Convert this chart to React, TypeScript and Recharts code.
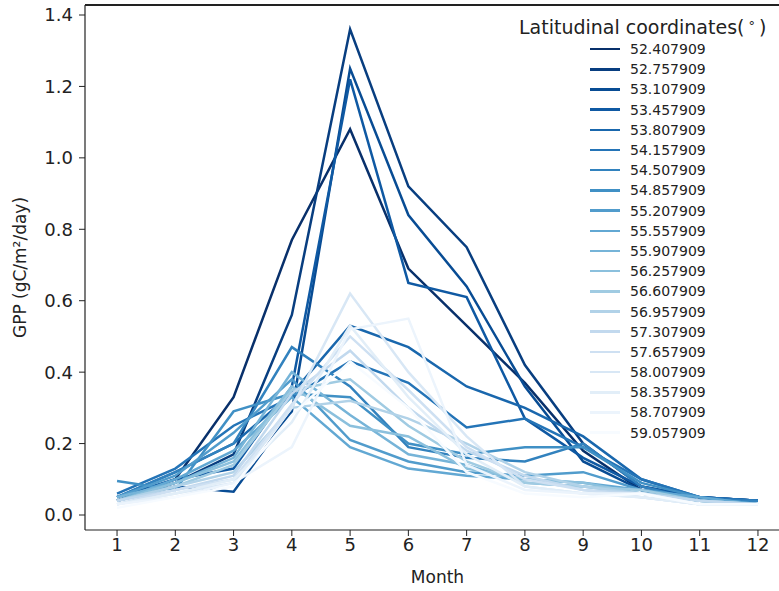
import { LineChart, Line, XAxis, YAxis } from 'recharts';

const months = [1, 2, 3, 4, 5, 6, 7, 8, 9, 10, 11, 12];
const yTicks = [0, 0.2, 0.4, 0.6, 0.8, 1.0, 1.2, 1.4];

const latitudes = [
  '52.407909', '52.757909', '53.107909', '53.457909', '53.807909',
  '54.157909', '54.507909', '54.857909', '55.207909', '55.557909',
  '55.907909', '56.257909', '56.607909', '56.957909', '57.307909',
  '57.657909', '58.007909', '58.357909', '58.707909', '59.057909',
];

// monthly GPP per latitude band
const lat52_41 = [0.04, 0.10, 0.33, 0.77, 1.08, 0.69, 0.53, 0.37, 0.18, 0.07, 0.05, 0.04];
const lat52_76 = [0.04, 0.09, 0.17, 0.56, 1.36, 0.92, 0.75, 0.42, 0.20, 0.08, 0.05, 0.04];
const lat53_11 = [0.04, 0.08, 0.065, 0.29, 1.25, 0.84, 0.64, 0.36, 0.15, 0.07, 0.04, 0.04];
const lat53_46 = [0.05, 0.10, 0.13, 0.36, 1.22, 0.65, 0.61, 0.27, 0.16, 0.08, 0.05, 0.04];
const lat53_81 = [0.05, 0.12, 0.20, 0.34, 0.53, 0.47, 0.36, 0.30, 0.22, 0.10, 0.05, 0.04];
const lat54_16 = [0.06, 0.13, 0.25, 0.33, 0.43, 0.37, 0.245, 0.27, 0.19, 0.10, 0.05, 0.04];
const lat54_51 = [0.05, 0.12, 0.20, 0.47, 0.36, 0.19, 0.16, 0.15, 0.20, 0.08, 0.04, 0.04];
const lat54_86 = [0.095, 0.07, 0.29, 0.34, 0.33, 0.20, 0.17, 0.19, 0.19, 0.09, 0.05, 0.03];
const lat55_21 = [0.05, 0.11, 0.23, 0.38, 0.21, 0.15, 0.12, 0.11, 0.12, 0.07, 0.04, 0.03];
const lat55_56 = [0.04, 0.10, 0.18, 0.33, 0.19, 0.13, 0.11, 0.10, 0.09, 0.07, 0.05, 0.03];
const lat55_91 = [0.05, 0.09, 0.16, 0.40, 0.28, 0.17, 0.14, 0.09, 0.08, 0.06, 0.04, 0.03];
const lat56_26 = [0.04, 0.09, 0.15, 0.36, 0.25, 0.22, 0.13, 0.10, 0.09, 0.06, 0.04, 0.03];
const lat56_61 = [0.04, 0.08, 0.14, 0.35, 0.38, 0.25, 0.15, 0.09, 0.08, 0.07, 0.04, 0.03];
const lat56_96 = [0.04, 0.08, 0.12, 0.30, 0.32, 0.27, 0.20, 0.12, 0.08, 0.06, 0.04, 0.03];
const lat57_31 = [0.04, 0.07, 0.11, 0.34, 0.46, 0.30, 0.18, 0.11, 0.07, 0.06, 0.04, 0.03];
const lat57_66 = [0.03, 0.07, 0.10, 0.31, 0.50, 0.35, 0.19, 0.10, 0.07, 0.05, 0.03, 0.03];
const lat58_01 = [0.03, 0.06, 0.09, 0.30, 0.62, 0.40, 0.22, 0.08, 0.06, 0.05, 0.03, 0.03];
const lat58_36 = [0.03, 0.06, 0.10, 0.26, 0.53, 0.33, 0.17, 0.08, 0.06, 0.05, 0.03, 0.03];
const lat58_71 = [0.03, 0.05, 0.09, 0.19, 0.52, 0.55, 0.14, 0.07, 0.06, 0.06, 0.03, 0.03];
const lat59_06 = [0.02, 0.05, 0.08, 0.28, 0.43, 0.30, 0.12, 0.06, 0.05, 0.06, 0.03, 0.03];

const seriesValues = [
  lat52_41, lat52_76, lat53_11, lat53_46, lat53_81,
  lat54_16, lat54_51, lat54_86, lat55_21, lat55_56,
  lat55_91, lat56_26, lat56_61, lat56_96, lat57_31,
  lat57_66, lat58_01, lat58_36, lat58_71, lat59_06,
];

// matplotlib "Blues" anchors
const bluesStops = [
  [247, 251, 255], [222, 235, 247], [198, 219, 239], [158, 202, 225], [107, 174, 214],
  [66, 146, 198], [33, 113, 181], [8, 81, 156], [8, 48, 107],
];

function blues(t: number) {
  const pos = t * (bluesStops.length - 1);
  const i = Math.min(Math.floor(pos), bluesStops.length - 2);
  const f = pos - i;
  const c = bluesStops[i].map((v, k) => Math.round(v + (bluesStops[i + 1][k] - v) * f));
  return `rgb(${c[0]},${c[1]},${c[2]})`;
}

const colors = latitudes.map((_, i) => blues(1 - i / (latitudes.length - 1)));

const data = months.map((m, i) => {
  const row: Record<string, number> = { month: m };
  seriesValues.forEach((vals, k) => {
    row[latitudes[k]] = vals[i];
  });
  return row;
});

const FONT = '"DejaVu Sans", sans-serif';
const TEXT = '#222';

function LegendBox() {
  return (
    <div style={{ position: 'absolute', top: 14, left: 519, fontFamily: FONT, color: TEXT }}>
      <div style={{ fontSize: 19, lineHeight: '24px', whiteSpace: 'nowrap' }}>
        Latitudinal coordinates(<span style={{ fontSize: 13, verticalAlign: '4px', padding: '0 4px' }}>°</span>)
      </div>
      <div>
        {latitudes.map((lat, i) => (
          <div key={lat} style={{ display: 'flex', alignItems: 'center', height: 20.2, marginLeft: 71 }}>
            <div style={{ width: 30, height: 2.5, background: colors[i], marginRight: 10 }} />
            <span style={{ fontSize: 14 }}>{lat}</span>
          </div>
        ))}
      </div>
    </div>
  );
}

export default function App() {
  return (
    <div style={{ position: 'absolute', top: 0, left: 0, width: 779, height: 591, overflow: 'hidden', background: '#fff' }}>
      <LineChart width={790} height={591} data={data} margin={{ top: 5, right: 0, bottom: 0, left: 0 }}>
        <XAxis
          dataKey="month"
          type="number"
          domain={[0.45, 12.55]}
          ticks={months}
          interval={0}
          height={61}
          tickSize={6}
          tickMargin={2}
          tick={{ fontSize: 18, fill: TEXT, fontFamily: FONT }}
          tickLine={{ stroke: TEXT }}
          axisLine={{ stroke: TEXT, strokeWidth: 1.2 }}
          label={{ value: 'Month', position: 'insideBottom', offset: 8, fontSize: 17, fill: TEXT, fontFamily: FONT }}
        />
        <YAxis
          type="number"
          domain={[-0.042, 1.428]}
          ticks={yTicks}
          width={85}
          tickSize={6}
          tickMargin={6}
          tickFormatter={(v: number) => v.toFixed(1)}
          tick={{ fontSize: 18, fill: TEXT, fontFamily: FONT }}
          tickLine={{ stroke: TEXT }}
          axisLine={{ stroke: TEXT, strokeWidth: 1.2 }}
          label={{
            value: 'GPP (gC/m²/day)',
            angle: -90,
            position: 'insideLeft',
            offset: 20,
            style: { textAnchor: 'middle' },
            fontSize: 17,
            fill: TEXT,
            fontFamily: FONT,
          }}
        />
        {latitudes.map((lat, i) => (
          <Line
            key={lat}
            dataKey={lat}
            stroke={colors[i]}
            strokeWidth={2.5}
            dot={false}
            activeDot={false}
            isAnimationActive={false}
          />
        ))}
      </LineChart>
      {/* top spine of the axes box */}
      <div style={{ position: 'absolute', top: 4, left: 85, width: 705, height: 2, background: TEXT, zIndex: 5 }} />
      <LegendBox />
    </div>
  );
}
